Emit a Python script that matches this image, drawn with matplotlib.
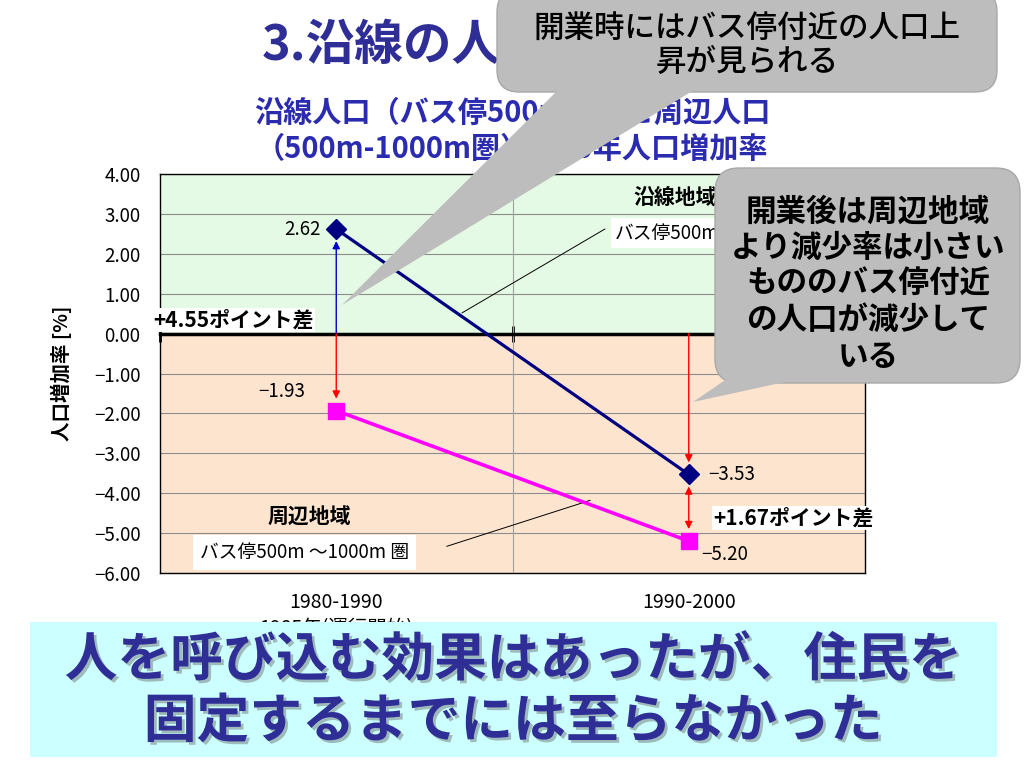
import matplotlib
matplotlib.use("Agg")
import matplotlib.pyplot as plt
import matplotlib.patheffects as pe
from matplotlib.patches import FancyBboxPatch, Polygon
from matplotlib.ticker import FuncFormatter

plt.rcParams['font.family'] = ['Noto Sans CJK JP', 'DejaVu Sans']

# data
periods = ['1980-1990\n1985年(運行開始)', '1990-2000']
route_rate = [2.62, -3.53]      # 沿線地域 バス停500m圏
surround_rate = [-1.93, -5.20]  # 周辺地域 バス停500m～1000m圏
y_ticks = [4, 3, 2, 1, 0, -1, -2, -3, -4, -5, -6]

navy = '#000080'
magenta = '#ff00ff'
title_blue = '#2e2e96'


def minus(v, fmt="{:.2f}"):
    return fmt.format(v).replace('-', '\u2212')


fig = plt.figure(figsize=(10.24, 7.68), dpi=100)
fig.patch.set_facecolor('white')

# slide title + chart title
fig.text(262 / 1024, 1 - 45 / 768, '3.沿線の人口動向', fontsize=35, fontweight='bold',
         color=title_blue, ha='left', va='center')
fig.text(512 / 1024, 1 - 131 / 768, '沿線人口（バス停500m圏）と周辺人口\n（500m-1000m圏）の10年人口増加率',
         fontsize=21, fontweight='bold', color='#2b2bb0', ha='center', va='center',
         linespacing=1.25)

ax = fig.add_axes([160 / 1024, 1 - 573 / 768, 705 / 1024, 399 / 768])
ax.set_xlim(0, 2)
ax.set_ylim(-6, 4)
ax.axhspan(0, 4, color='#e4fae4', zorder=0)
ax.axhspan(-6, 0, color='#fde4cf', zorder=0)
ax.set_yticks(y_ticks)
ax.yaxis.set_major_formatter(FuncFormatter(lambda v, p: minus(v)))
ax.tick_params(axis='y', length=0, labelsize=13.5, pad=14)
ax.yaxis.grid(True, color='#8c8c8c', lw=0.8, zorder=1)
ax.axvline(1, color='#a0a0a0', lw=0.8, zorder=1)
ax.set_axisbelow(True)

# zero line as the category axis
ax.spines['bottom'].set_position(('data', 0))
ax.spines['bottom'].set_linewidth(2.5)
ax.set_xticks([0, 1, 2])
ax.set_xticklabels([])
ax.tick_params(axis='x', direction='inout', length=12, width=2)
for s in ['top', 'left', 'right']:
    ax.spines[s].set_linewidth(1.0)

sec = ax.secondary_xaxis(0.0)
sec.set_xticks([i + 0.5 for i in range(len(periods))])
sec.set_xticklabels(periods, fontsize=14, linespacing=1.3)
sec.tick_params(length=0, pad=14)
sec.spines['bottom'].set_linewidth(1.0)

ax.set_ylabel('人口増加率 [%]', fontsize=14, fontweight='bold')
ax.yaxis.set_label_coords(-0.125, 0.5)

xs = [i + 0.5 for i in range(len(periods))]
ax.plot(xs, route_rate, color=navy, lw=2.3, marker='D', markersize=10, zorder=5)
ax.plot(xs, surround_rate, color=magenta, lw=2.6, marker='s', markersize=12, zorder=5)

# value labels
ax.annotate(minus(route_rate[0]), (xs[0], route_rate[0]), xytext=(-11, 0),
            textcoords='offset points', ha='right', va='center', fontsize=13.5)
ax.annotate(minus(surround_rate[0]), (xs[0], surround_rate[0]), xytext=(-39, 14),
            textcoords='offset points', ha='center', va='center', fontsize=13.5)
ax.annotate(minus(route_rate[1]), (xs[1], route_rate[1]), xytext=(14, 0),
            textcoords='offset points', ha='left', va='center', fontsize=13.5)
ax.annotate(minus(surround_rate[1]), (xs[1], surround_rate[1]), xytext=(9, -10),
            textcoords='offset points', ha='left', va='center', fontsize=13.5)

# difference arrows
arr = dict(arrowstyle='-|>', lw=1.0, mutation_scale=11, shrinkA=0, shrinkB=0)
ax.annotate('', xy=(xs[0], route_rate[0] - 0.3), xytext=(xs[0], 0),
            arrowprops=dict(arr, color='#0000cc'), zorder=4)
ax.annotate('', xy=(xs[0], surround_rate[0] + 0.3), xytext=(xs[0], 0),
            arrowprops=dict(arr, color='red'), zorder=4)
ax.annotate('', xy=(xs[1], route_rate[1] + 0.3), xytext=(xs[1], 0),
            arrowprops=dict(arr, color='red'), zorder=4)
ax.annotate('', xy=(xs[1], surround_rate[1] + 0.3), xytext=(xs[1], route_rate[1] - 0.3),
            arrowprops=dict(arrowstyle='<|-|>', lw=1.0, mutation_scale=11, shrinkA=0,
                            shrinkB=0, color='red'), zorder=4)

gap0 = route_rate[0] - surround_rate[0]
gap1 = route_rate[1] - surround_rate[1]
ax.text(-0.02, 0.33, '+{:.2f}ポイント差'.format(gap0), fontsize=15, fontweight='bold',
        ha='left', va='center', clip_on=False, zorder=6,
        bbox=dict(facecolor='white', edgecolor='none', pad=1))
ax.text(1.57, -4.62, '+{:.2f}ポイント差'.format(gap1), fontsize=15, fontweight='bold',
        ha='left', va='center', clip_on=False, zorder=6,
        bbox=dict(facecolor='white', edgecolor='none', pad=1))

# series labels
ax.text(1.342, 3.4, '沿線地域', fontsize=15, fontweight='bold', ha='left', va='center', zorder=6)
ax.text(1.29, 2.52, 'バス停500m圏', fontsize=13.5, ha='left', va='center', zorder=6,
        bbox=dict(facecolor='white', edgecolor='none', pad=3))
ax.plot([0.857, 1.262], [0.52, 2.62], color='black', lw=0.7, zorder=4)
ax.text(0.423, -4.6, '周辺地域', fontsize=15, fontweight='bold', ha='center', va='center', zorder=6)
ax.text(0.41, -5.48, 'バス停500m ～1000m 圏', fontsize=13.5, ha='center', va='center', zorder=6,
        bbox=dict(facecolor='white', edgecolor='none', pad=5))
ax.plot([0.814, 1.22], [-5.33, -4.18], color='black', lw=0.7, zorder=4)

# overlay for callouts and the bottom message (pixel coordinates)
ov = fig.add_axes([0, 0, 1, 1], zorder=10)
ov.set_xlim(0, 1024)
ov.set_ylim(768, 0)
ov.axis('off')
ov.patch.set_alpha(0)

gray = '#bdbdbd'
ov.add_patch(FancyBboxPatch((497, -10), 500, 102, boxstyle='round,pad=0,rounding_size=22',
                            facecolor=gray, edgecolor='#a8a8a8', lw=1))
ov.add_patch(Polygon([(558, 90), (694, 90), (342, 305)], closed=True,
                     facecolor=gray, edgecolor='none'))
ov.text(747, 45, '開業時にはバス停付近の人口上\n昇が見られる', fontsize=22,
        fontweight='medium', ha='center', va='center', linespacing=1.12)

ov.add_patch(FancyBboxPatch((715, 168), 305, 215, boxstyle='round,pad=0,rounding_size=24',
                            facecolor=gray, edgecolor='#a8a8a8', lw=1))
ov.add_patch(Polygon([(740, 370), (840, 370), (693, 402)], closed=True,
                     facecolor=gray, edgecolor='none'))
ov.text(868, 284, '開業後は周辺地域\nより減少率は小さい\nもののバス停付近\nの人口が減少して\nいる',
        fontsize=22, fontweight='bold', ha='center', va='center', linespacing=1.17)

ov.add_patch(plt.Rectangle((30, 622), 967, 135, facecolor='#ccffff', edgecolor='none'))
ov.text(513, 691, '人を呼び込む効果はあったが、住民を\n固定するまでには至らなかった',
        fontsize=38, fontweight='bold', color='#2e2e96', ha='center', va='center',
        linespacing=1.2,
        path_effects=[pe.SimplePatchShadow(offset=(2, -2), shadow_rgbFace='#666666', alpha=0.45),
                      pe.Normal()])

fig.savefig('out.png', dpi=100)
